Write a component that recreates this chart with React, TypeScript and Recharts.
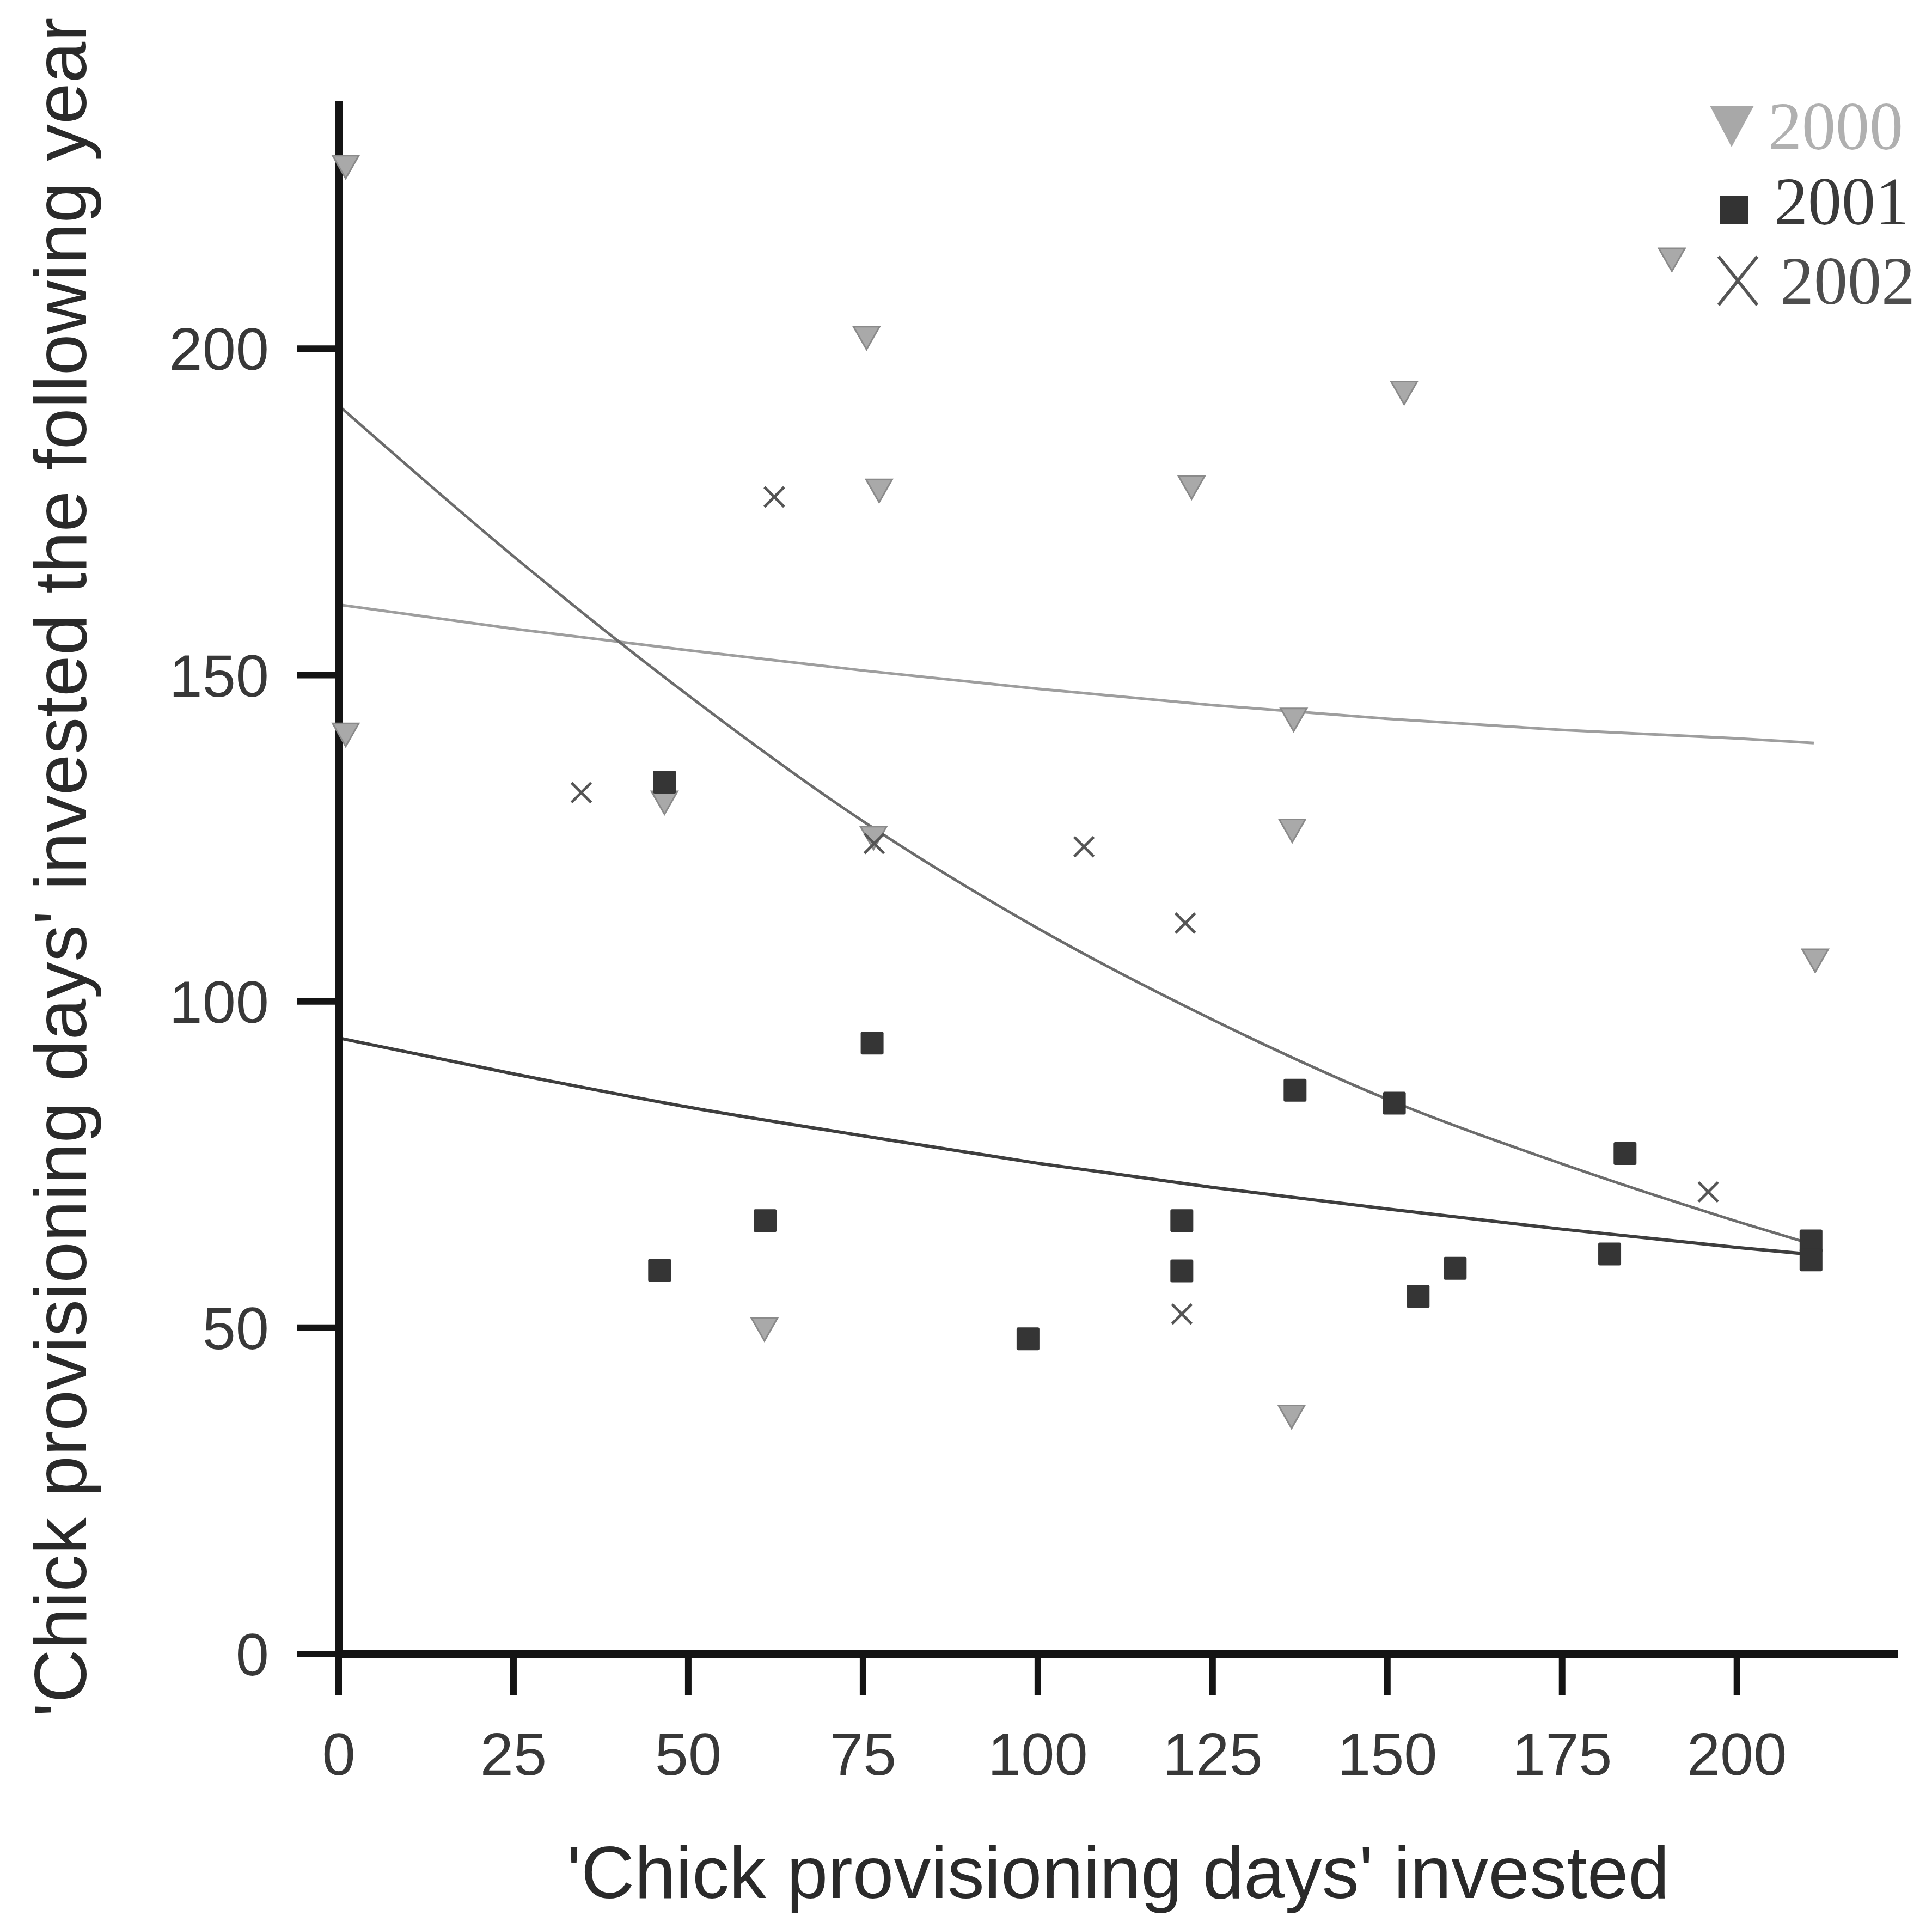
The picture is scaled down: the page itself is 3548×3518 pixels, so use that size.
import React from "react";
import { ComposedChart, Scatter, Line, XAxis, YAxis, Legend } from "recharts";

// Scanned figure: next-year chick provisioning vs. days invested, three seasons.

const W = 3548;
const H = 3518;

const SERIES_NAMES = ["2000", "2001", "2002"];

// 2000 — grey down-triangles
const x2000 = [1, 1, 46.6, 60.9, 75.5, 77.3, 76.5, 122, 136.6, 136.4, 136.3, 152.4, 190.7, 211.2];
const y2000 = [228, 141, 130.6, 49.9, 201.8, 178.4, 125.2, 178.9, 143.3, 126.3, 36.5, 193.4, 213.8, 106.4];

// 2001 — dark squares
const x2001 = [46.6, 45.9, 61, 76.3, 98.6, 120.6, 120.6, 136.8, 151, 154.4, 159.7, 181.8, 184, 210.6, 210.6];
const y2001 = [133.6, 58.8, 66.4, 93.6, 48.3, 66.4, 58.7, 86.4, 84.4, 54.8, 59.1, 61.3, 76.7, 63.3, 60.4];

// 2002 — crosses
const x2002 = [34.7, 62.3, 76.6, 106.6, 121.1, 120.6, 195.9];
const y2002 = [132, 177.3, 124.2, 123.7, 112, 52.1, 70.8];

// fitted curves
const fitX = [0, 25, 50, 75, 100, 125, 150, 175, 200, 211];
const fit2000 = [160.8, 157.1, 153.8, 150.7, 147.9, 145.4, 143.3, 141.6, 140.3, 139.6];
const fit2001 = [94.4, 88.9, 83.8, 79.4, 75.2, 71.5, 68.2, 65.1, 62.3, 61.2];
const fit2002 = [191.3, 168.2, 146.9, 127.6, 111.2, 97.2, 85.0, 75.1, 66.3, 62.7];

const X_TICKS = [0, 25, 50, 75, 100, 125, 150, 175, 200];
const Y_TICKS = [0, 50, 100, 150, 200];

const X_TITLE = "'Chick provisioning days' invested";
const Y_TITLE = "'Chick provisioning days' invested the following year";

const zip = (xs: number[], ys: number[]) => xs.map((x, i) => ({ x, y: ys[i] }));

const pts2000 = zip(x2000, y2000);
const pts2001 = zip(x2001, y2001);
const pts2002 = zip(x2002, y2002);
const line2000 = zip(fitX, fit2000);
const line2001 = zip(fitX, fit2001);
const line2002 = zip(fitX, fit2002);

const AXIS = "#141414";
const SANS = "'Liberation Sans', Arial, Helvetica, sans-serif";
const SERIF = "'Liberation Serif', 'Times New Roman', serif";

function TriangleDown(props: any) {
  const { cx, cy } = props;
  if (cx == null || cy == null) return null;
  return (
    <path
      d={`M${cx - 24},${cy - 19} L${cx + 24},${cy - 19} L${cx},${cy + 23} Z`}
      fill="#a9a9a9"
      stroke="#8a8a8a"
      strokeWidth={3}
    />
  );
}

function SquareMark(props: any) {
  const { cx, cy } = props;
  if (cx == null || cy == null) return null;
  return <rect x={cx - 21} y={cy - 21} width={42} height={42} rx={3} fill="#353535" />;
}

function CrossMark(props: any) {
  const { cx, cy } = props;
  if (cx == null || cy == null) return null;
  const r = 18;
  return (
    <g stroke="#555" strokeWidth={5}>
      <line x1={cx - r} y1={cy - r} x2={cx + r} y2={cy + r} />
      <line x1={cx - r} y1={cy + r} x2={cx + r} y2={cy - r} />
    </g>
  );
}

function LegendBox() {
  return (
    <svg width={460} height={420} style={{ display: "block", overflow: "visible" }}>
      <path d="M20,24 L101,24 L60,100 Z" fill="#a8a8a8" />
      <text x={127} y={104} fontSize={124} fontFamily={SERIF} fill="#b0b0b0">
        {SERIES_NAMES[0]}
      </text>
      <rect x={38} y={190} width={52} height={52} fill="#333" />
      <text x={138} y={242} fontSize={124} fontFamily={SERIF} fill="#3a3a3a">
        {SERIES_NAMES[1]}
      </text>
      <g stroke="#555" strokeWidth={6}>
        <line x1={36} y1={301} x2={107} y2={390} />
        <line x1={36} y1={390} x2={107} y2={301} />
      </g>
      <text x={149} y={388} fontSize={124} fontFamily={SERIF} fill="#4e4e4e">
        {SERIES_NAMES[2]}
      </text>
    </svg>
  );
}

function XTitle(props: any) {
  const vb = props.viewBox || {};
  return (
    <text
      x={vb.x + vb.width / 2}
      y={vb.y + 448}
      textAnchor="middle"
      fontSize={136}
      fontFamily={SANS}
      fill="#2a2a2a"
    >
      {X_TITLE}
    </text>
  );
}

function YTitle(props: any) {
  const vb = props.viewBox || {};
  const cx = 158;
  const cy = vb.y + vb.height / 2 - 19;
  return (
    <text
      x={cx}
      y={cy}
      transform={`rotate(-90, ${cx}, ${cy})`}
      textAnchor="middle"
      fontSize={136}
      fontFamily={SANS}
      fill="#2a2a2a"
    >
      {Y_TITLE}
    </text>
  );
}

export default function App() {
  return (
    <div style={{ position: "absolute", left: 0, top: 0, width: W, height: H, background: "#fff" }}>
      <ComposedChart
        width={W}
        height={H}
        margin={{ top: 185, right: 63, bottom: 0, left: 0 }}
        style={{ fontFamily: SANS }}
      >
        <XAxis
          type="number"
          dataKey="x"
          domain={[0, 223]}
          ticks={X_TICKS}
          height={481}
          tickSize={76}
          tickMargin={68}
          axisLine={{ stroke: AXIS, strokeWidth: 14 }}
          tickLine={{ stroke: AXIS, strokeWidth: 12 }}
          tick={{ fontSize: 110, fill: "#383838", fontFamily: SANS }}
          label={<XTitle />}
        />
        <YAxis
          type="number"
          dataKey="y"
          domain={[0, 238]}
          ticks={Y_TICKS}
          width={622}
          tickSize={76}
          tickMargin={52}
          axisLine={{ stroke: AXIS, strokeWidth: 14 }}
          tickLine={{ stroke: AXIS, strokeWidth: 12 }}
          tick={{ fontSize: 110, fill: "#383838", fontFamily: SANS }}
          label={<YTitle />}
        />
        <Legend
          content={<LegendBox />}
          layout="horizontal"
          verticalAlign="middle"
          align="center"
          wrapperStyle={{ left: 3120, top: 170, width: 460, height: 420 }}
        />

        <Line
          data={line2000}
          dataKey="y"
          type="monotone"
          stroke="#9e9e9e"
          strokeWidth={5}
          dot={false}
          activeDot={false}
          legendType="none"
          isAnimationActive={false}
        />
        <Line
          data={line2002}
          dataKey="y"
          type="monotone"
          stroke="#6c6c6c"
          strokeWidth={5}
          dot={false}
          activeDot={false}
          legendType="none"
          isAnimationActive={false}
        />
        <Line
          data={line2001}
          dataKey="y"
          type="monotone"
          stroke="#3e3e3e"
          strokeWidth={6}
          dot={false}
          activeDot={false}
          legendType="none"
          isAnimationActive={false}
        />

        <Scatter name={SERIES_NAMES[0]} data={pts2000} dataKey="y" shape={<TriangleDown />} isAnimationActive={false} />
        <Scatter name={SERIES_NAMES[1]} data={pts2001} dataKey="y" shape={<SquareMark />} isAnimationActive={false} />
        <Scatter name={SERIES_NAMES[2]} data={pts2002} dataKey="y" shape={<CrossMark />} isAnimationActive={false} />
      </ComposedChart>
    </div>
  );
}
